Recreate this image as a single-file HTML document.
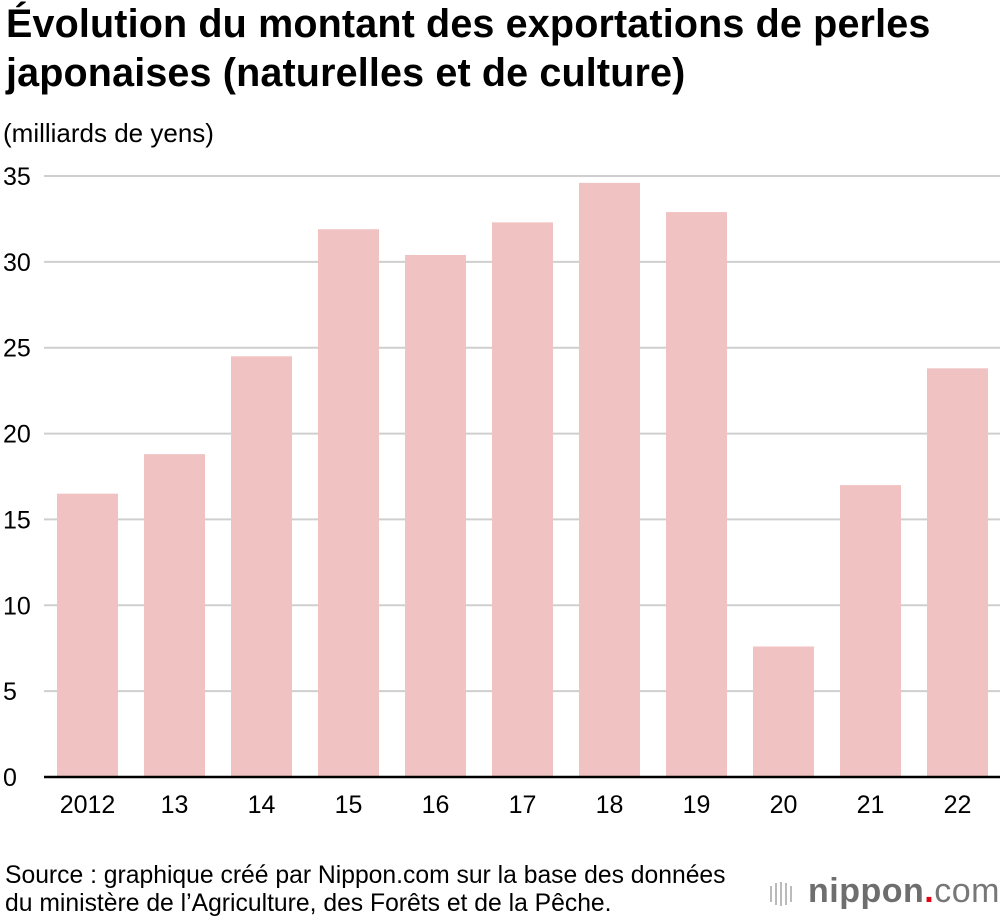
<!DOCTYPE html>
<html><head><meta charset="utf-8"><style>
body{margin:0;background:#fff;font-family:"Liberation Sans",sans-serif;color:#000}
#wrap{position:relative;width:1000px;height:920px;overflow:hidden}
h1{position:absolute;left:6px;top:0px;margin:0;font-size:39.5px;line-height:49px;font-weight:bold;letter-spacing:0.15px}
.unit{position:absolute;left:3px;top:118px;font-size:26px}
.src{position:absolute;left:5px;top:862px;font-size:24.7px;line-height:28px}
.logo{position:absolute;left:808px;top:872px;font-size:34px;color:#6e6e6e;font-weight:bold;letter-spacing:0.5px}
.logo .dot{color:#e50012}.logo .com{font-weight:normal;color:#777}
</style></head><body><div id="wrap">
<h1>Évolution du montant des exportations de perles<br>japonaises (naturelles et de culture)</h1>
<div class="unit">(milliards de yens)</div>
<svg id="chart" width="1000" height="920" style="position:absolute;left:0;top:0"></svg>
<div class="src">Source : graphique créé par Nippon.com sur la base des données<br>du ministère de l’Agriculture, des Forêts et de la Pêche.</div>
<div class="logo"><span style="position:absolute;left:-38px;top:10px;display:flex;gap:3px"><i style="width:2px;height:16px;background:#bbb;margin-top:4px"></i><i style="width:2px;height:22px;background:#bbb;margin-top:1px"></i><i style="width:2px;height:24px;background:#bbb"></i><i style="width:2px;height:22px;background:#bbb;margin-top:1px"></i><i style="width:2px;height:16px;background:#bbb;margin-top:4px"></i></span>nippon<span class="dot">.</span><span class="com">com</span></div>
</div>
<script>
const categories=["2012","13","14","15","16","17","18","19","20","21","22"];
const values=[16.5,18.8,24.5,31.9,30.4,32.3,34.6,32.9,7.6,17.0,23.8];
const yTicks=[0,5,10,15,20,25,30,35];
const NS="http://www.w3.org/2000/svg";
const svg=document.getElementById('chart');
const y0=777,yTop=176,yMax=35,x0=44,x1=1000;
const yScale=v=>y0-(v/yMax)*(y0-yTop);
const step=87,barW=61,firstX=57;
const xScale=i=>firstX+i*step;
function mk(t,a){const e=document.createElementNS(NS,t);for(const k in a)e.setAttribute(k,a[k]);svg.appendChild(e);return e;}
yTicks.forEach(t=>{
 if(t>0){const l=mk('line',{x1:x0,x2:x1,y1:yScale(t),y2:yScale(t),stroke:'#cfcfcf','stroke-width':2});
 
 }
 const tx=mk('text',{x:3,y:yScale(t)+9,'font-size':25,'font-family':'Liberation Sans, sans-serif'});
 tx.textContent=t;
 
 
});
values.forEach((v,i)=>{
 const r=mk('rect',{x:xScale(i),y:yScale(v),width:barW,height:y0-yScale(v),fill:'#f0c2c2'});
 
 
 const tx=mk('text',{x:xScale(i)+barW/2,y:813,'font-size':25,'text-anchor':'middle','font-family':'Liberation Sans, sans-serif'});
 tx.textContent=categories[i];
 
 
});
const b=mk('line',{x1:x0,x2:x1,y1:y0,y2:y0,stroke:'#000','stroke-width':2.5});


</script>
</body></html>
